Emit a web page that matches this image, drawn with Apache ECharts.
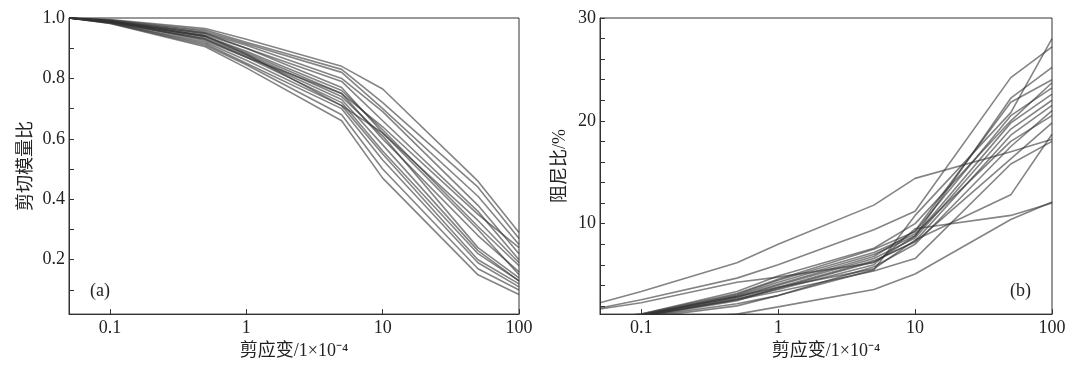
<!DOCTYPE html>
<html><head><meta charset="utf-8">
<script src="https://cdn.jsdelivr.net/npm/echarts@6/dist/echarts.min.js"></script>
<style>html,body{margin:0;padding:0;background:#fff}#c{width:1070px;height:365px}</style>
</head><body><div id="c"></div>
<script>
// shear strain levels (x 1e-4)
const strain = [0.05, 0.1, 0.5, 1, 5, 10, 50, 100];

// (a) shear modulus ratio curves, one row per specimen
const modulusCurves = [
  [1.0, 0.995, 0.965, 0.930, 0.840, 0.765, 0.46, 0.29],
  [1.0, 0.993, 0.960, 0.920, 0.830, 0.720, 0.44, 0.27],
  [1.0, 0.992, 0.955, 0.915, 0.820, 0.700, 0.41, 0.25],
  [1.0, 0.990, 0.950, 0.910, 0.800, 0.690, 0.38, 0.22],
  [1.0, 0.990, 0.950, 0.900, 0.790, 0.660, 0.36, 0.20],
  [1.0, 0.990, 0.945, 0.900, 0.770, 0.620, 0.33, 0.19],
  [1.0, 0.990, 0.940, 0.890, 0.760, 0.630, 0.31, 0.18],
  [1.0, 0.988, 0.940, 0.885, 0.750, 0.600, 0.28, 0.16],
  [1.0, 0.988, 0.935, 0.880, 0.740, 0.610, 0.24, 0.14],
  [1.0, 0.987, 0.930, 0.875, 0.730, 0.580, 0.23, 0.13],
  [1.0, 0.986, 0.930, 0.870, 0.720, 0.560, 0.22, 0.13],
  [1.0, 0.985, 0.920, 0.860, 0.710, 0.550, 0.20, 0.12],
  [1.0, 0.984, 0.915, 0.850, 0.700, 0.530, 0.19, 0.11],
  [1.0, 0.983, 0.910, 0.845, 0.680, 0.500, 0.17, 0.10],
  [1.0, 0.982, 0.905, 0.835, 0.660, 0.470, 0.15, 0.085],
  [1.0, 0.990, 0.925, 0.870, 0.750, 0.640, 0.35, 0.24],
  [1.0, 0.988, 0.940, 0.880, 0.710, 0.620, 0.30, 0.15]
];

// (b) damping ratio curves (%), one row per specimen
const dampingCurves = [
  [2.3, 3.4, 6.2, 8.0, 11.8, 14.4, 17.0, 18.2],
  [1.8, 2.6, 4.7, 6.0, 9.4, 11.2, 24.2, 27.2],
  [1.7, 2.3, 4.3, 4.8, 6.2, 8.8, 22.2, 25.2],
  [0.3, 0.6, 1.2, 1.9, 3.6, 5.1, 10.4, 12.1],
  [0.6, 1.0, 2.6, 3.4, 5.4, 6.6, 15.8, 18.0],
  [0.7, 1.1, 2.9, 3.8, 5.6, 8.4, 12.8, 18.7],
  [0.5, 1.0, 2.7, 3.6, 6.0, 9.5, 10.8, 12.0],
  [0.8, 1.2, 3.2, 4.6, 7.5, 9.2, 20.5, 23.2],
  [0.7, 1.1, 3.0, 4.3, 7.0, 8.8, 19.8, 22.6],
  [0.6, 1.0, 2.8, 4.0, 6.6, 8.6, 19.2, 22.0],
  [0.5, 0.9, 2.5, 3.7, 6.3, 8.3, 18.6, 21.5],
  [0.8, 1.2, 3.4, 4.9, 7.6, 10.0, 20.0, 23.7],
  [0.6, 1.1, 3.1, 4.5, 7.2, 9.0, 18.0, 20.5],
  [0.5, 0.9, 2.2, 3.0, 5.8, 8.0, 17.5, 21.0],
  [0.7, 1.1, 2.9, 4.1, 6.8, 9.3, 21.8, 24.0],
  [0.4, 0.8, 2.0, 3.0, 5.5, 10.8, 20.8, 28.0],
  [0.6, 1.0, 2.6, 3.8, 6.4, 8.2, 16.3, 19.8]
];

const modulusLabelTicks = [0.2, 0.4, 0.6, 0.8, 1.0];
const modulusMinorTicks = [0.1, 0.2, 0.3, 0.4, 0.5, 0.6, 0.7, 0.8, 0.9, 1.0];
const dampingLabelTicks = [10, 20, 30];
const dampingMinorTicks = [2, 4, 6, 8, 10, 12, 14, 16, 18, 20, 22, 24, 26, 28, 30];

const xName = '剪应变/1×10⁻⁴';
const yNameA = '剪切模量比';
const yNameB = '阻尼比/%';
const panelA = '(a)';
const panelB = '(b)';

const SERIF = "'Liberation Serif', 'Times New Roman', serif";
const NAMEFONT = "'Liberation Serif', 'Noto Sans CJK SC', serif";
const TXT = '#222';
const AX = '#333';

function xAxisCfg(gi) {
  return {
    type: 'log', logBase: 10, gridIndex: gi, min: 0.05, max: 100,
    name: xName, nameLocation: 'middle', nameGap: 26,
    nameTextStyle: { fontFamily: NAMEFONT, fontSize: 18, color: TXT },
    axisLine: { show: true, lineStyle: { color: AX, width: 1 } },
    axisTick: { show: true, inside: true, length: 5, lineStyle: { color: AX } },
    minorTick: { show: false },
    axisLabel: { showMinLabel: false, fontFamily: SERIF, fontSize: 18, color: TXT, margin: 5,
      formatter: v => String(+v.toPrecision(3)) },
    splitLine: { show: false }
  };
}

const lineStyle = { color: 'rgba(50,50,50,0.6)', width: 1.6 };
const series = [];
modulusCurves.forEach(c => series.push({
  type: 'line', xAxisIndex: 0, yAxisIndex: 0, symbol: 'none', silent: true, clip: true,
  lineStyle, data: strain.map((s, i) => [s, c[i]])
}));
dampingCurves.forEach(c => series.push({
  type: 'line', xAxisIndex: 1, yAxisIndex: 1, symbol: 'none', silent: true, clip: true,
  lineStyle, data: strain.map((s, i) => [s, c[i]])
}));

const chart = echarts.init(document.getElementById('c'), null, { renderer: 'canvas' });
chart.setOption({
  animation: false,
  backgroundColor: '#fff',
  grid: [
    { left: 69, top: 18, width: 450, height: 299, show: true, borderColor: AX, borderWidth: 1 },
    { left: 600, top: 18, width: 452, height: 299, show: true, borderColor: AX, borderWidth: 1 }
  ],
  xAxis: [xAxisCfg(0), xAxisCfg(1)],
  yAxis: [
    {
      type: 'value', gridIndex: 0, min: 0.02, max: 1.0,
      name: yNameA, nameLocation: 'middle', nameGap: 34,
      nameTextStyle: { fontFamily: NAMEFONT, fontSize: 18, color: TXT },
      axisLine: { show: true, lineStyle: { color: AX, width: 1 } },
      axisTick: { show: true, inside: true, length: 5, customValues: modulusMinorTicks, lineStyle: { color: AX } },
      axisLabel: { customValues: modulusLabelTicks, fontFamily: SERIF, fontSize: 18, color: TXT, margin: 4,
        formatter: v => (+v).toFixed(1) },
      splitLine: { show: false }
    },
    {
      type: 'value', gridIndex: 1, min: 1.2, max: 30,
      name: yNameB, nameLocation: 'middle', nameGap: 31,
      nameTextStyle: { fontFamily: NAMEFONT, fontSize: 18, color: TXT },
      axisLine: { show: true, lineStyle: { color: AX, width: 1 } },
      axisTick: { show: true, inside: true, length: 5, customValues: dampingMinorTicks, lineStyle: { color: AX } },
      axisLabel: { customValues: dampingLabelTicks, fontFamily: SERIF, fontSize: 18, color: TXT, margin: 4 },
      splitLine: { show: false }
    }
  ],
  graphic: [
    { type: 'text', left: 90, top: 282, style: { text: panelA, font: "18px 'Liberation Serif', serif", fill: TXT } },
    { type: 'text', left: 1010, top: 282, style: { text: panelB, font: "18px 'Liberation Serif', serif", fill: TXT } }
  ],
  series
});
</script>
</body></html>
